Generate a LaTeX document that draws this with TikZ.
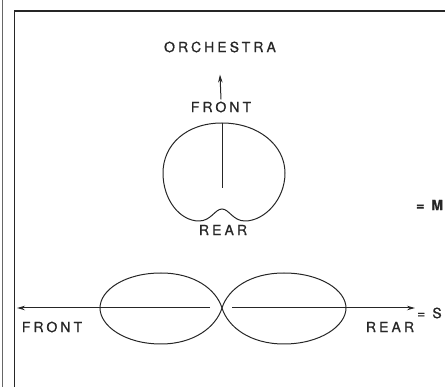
\documentclass[tikz,border=0pt]{standalone}
\usepackage{fontspec}
\newfontfamily\lblfont[LetterSpace=22,FakeBold=0.8]{TeX Gyre Heros}
\usetikzlibrary{arrows.meta}
\tikzset{
  lbl/.style={font=\lblfont\fontsize{14}{14}\selectfont, inner sep=0pt, text=black!85},
  curve/.style={line width=1pt, draw=black!85},
  rim/.style={line width=1.6pt, draw=black!85},
  arr/.style={-{Stealth[length=8pt,width=4.5pt]}, line width=1pt, draw=black!85}
}
\begin{document}
\begin{tikzpicture}[x=1pt,y=-1pt]
\useasboundingbox (0,0) rectangle (445,387);
\clip (0,0) rectangle (445,387);
\draw[line width=0.8pt, black!60] (2,0) -- (2,387);
\draw[rim] (14.5,387) -- (14.5,11) -- (445,11);

\node[lbl] (orch) at (220,47) {ORCHESTRA};
\node[lbl] (ftop) at (221,107) {FRONT};
\node[lbl] (rtop) at (223,230) {REAR};
\draw[arr] ([yshift=2pt]ftop.north) -- ([yshift=-22pt]orch.south);

\draw[curve] (222,123) .. controls (258,123) and (285,145) .. (285,173)
  .. controls (285,200) and (264,221) .. (245,221)
  .. controls (233,221) and (229,209) .. (222,209)
  .. controls (215,209) and (211,221) .. (199,221)
  .. controls (180,221) and (163,200) .. (163,173)
  .. controls (163,145) and (186,123) .. (222,123) -- cycle;
\draw[curve] (222,123) -- (222,188);
\node[lbl, anchor=west, font=\lblfont\bfseries\fontsize{14}{14}\selectfont] (mono) at (416,205) {= M};

\draw[curve] (222,308) .. controls (216,289) and (194,273) .. (161,273)
  .. controls (125,273) and (100,290) .. (100,308)
  .. controls (100,326) and (125,344) .. (161,344)
  .. controls (194,344) and (216,327) .. (222,308);
\draw[curve] (222,308) .. controls (228,289) and (250,273) .. (284,273)
  .. controls (320,273) and (346,290) .. (346,308)
  .. controls (346,326) and (320,344) .. (284,344)
  .. controls (250,344) and (228,327) .. (222,308);
\coordinate (lend) at (17,308);
\coordinate (lmid) at (210,308);
\coordinate (rmid) at (232,308);
\coordinate (rend) at (415,308);
\draw[arr] (lmid) -- (lend);
\draw[arr] (rmid) -- (rend);
\node[lbl] (fbot) at (52,327) {FRONT};
\node[lbl] (rbot) at (390,327) {REAR};
\node[lbl, anchor=west] (ster) at (417,313) {= S};
\end{tikzpicture}
\end{document}
